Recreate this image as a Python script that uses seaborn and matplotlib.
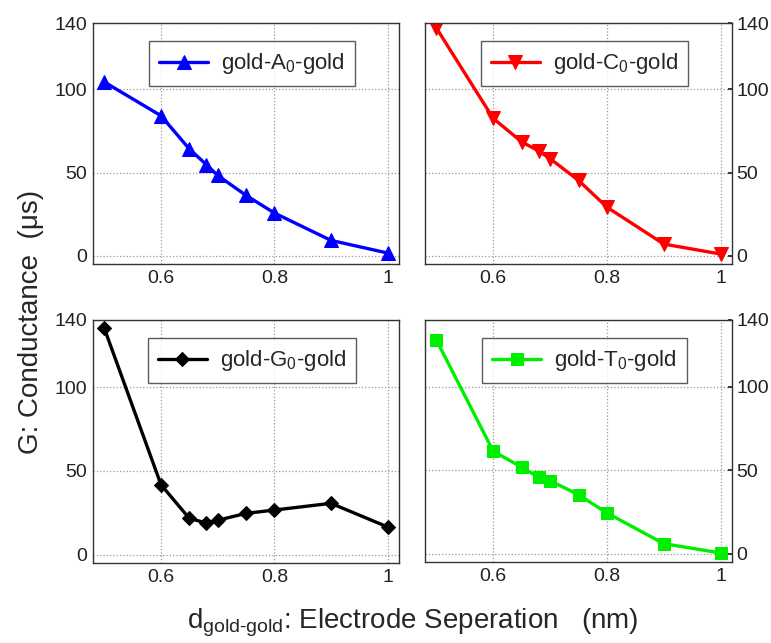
import matplotlib
matplotlib.use("Agg")
import matplotlib.pyplot as plt
import seaborn as sns
import pandas as pd

sep = [0.5, 0.6, 0.65, 0.68, 0.7, 0.75, 0.8, 0.9, 1.0]
g_A = [104.5, 84.2, 64.2, 54.8, 48.3, 36.3, 25.7, 9.2, 1.6]
g_C = [137.0, 82.6, 68.5, 63.0, 58.4, 45.3, 29.2, 7.0, 1.0]
g_G = [135.0, 41.7, 21.6, 18.9, 20.5, 24.6, 26.6, 30.6, 16.5]
g_T = [128.0, 61.4, 51.8, 45.7, 43.7, 35.3, 24.4, 6.0, 0.4]
labels = [r'gold-A$_0$-gold', r'gold-C$_0$-gold', r'gold-G$_0$-gold', r'gold-T$_0$-gold']
xticks = [0.6, 0.8, 1.0]
xticklabels = ['0.6', '0.8', '1']
yticks = [0, 50, 100, 140]

sns.set_theme(style="white")
plt.rcParams['font.family'] = ['Liberation Sans', 'DejaVu Sans']
plt.rcParams['mathtext.fontset'] = 'custom'
plt.rcParams['mathtext.rm'] = 'Liberation Sans'
plt.rcParams['mathtext.it'] = 'Liberation Sans'
plt.rcParams['mathtext.bf'] = 'Liberation Sans'

fig = plt.figure(figsize=(7.71, 6.43), dpi=100)
W, H = 771, 643
def pos(l, t, r, b):
    return [l / W, 1 - b / H, (r - l) / W, (b - t) / H]

boxes = [pos(93, 23, 399, 264), pos(425, 23, 732, 264),
         pos(93, 320, 399, 563), pos(425, 320, 732, 562)]
series = [g_A, g_C, g_G, g_T]
colors = ['#0000ff', '#ff0000', '#000000', '#00ee00']
markers = ['^', 'v', 'D', 's']
msizes = [10, 10, 7.5, 8.5]

for i, (box, ys, col, mk, lab, ms) in enumerate(zip(boxes, series, colors, markers, labels, msizes)):
    ax = fig.add_axes(box)
    df = pd.DataFrame({'d': sep, 'G': ys, 'name': lab})
    sns.lineplot(data=df, x='d', y='G', color=col, marker=mk, markersize=ms,
                 markeredgecolor=col, linewidth=2.4, label=lab, ax=ax)
    ax.set_xlim(0.48, 1.02)
    ax.set_ylim(-5, 140)
    ax.set_xticks(xticks)
    ax.set_xticklabels(xticklabels)
    ax.set_yticks(yticks)
    ax.grid(True, linestyle=':', color='#999999', linewidth=0.9)
    ax.set_xlabel('')
    ax.set_ylabel('')
    for s in ax.spines.values():
        s.set_color('#333333')
        s.set_linewidth(1.0)
    ax.tick_params(labelsize=14, length=3, direction='in', colors='#222222', pad=4)
    if i % 2 == 1:
        ax.yaxis.tick_right()
        ax.tick_params(axis='y', labelleft=False, labelright=True, pad=3)
    leg = ax.legend(loc='upper center', fontsize=16, frameon=True, fancybox=False,
                    handlelength=2.2, borderpad=0.45, handletextpad=0.6,
                    bbox_to_anchor=(0.52, 0.97))
    leg.get_frame().set_edgecolor('#333333')
    leg.get_frame().set_linewidth(1.0)

fig.text(0.040, 0.5, r'G: Conductance  (μs)', rotation=90, ha='center', va='center', fontsize=20)
fig.text(0.535, 0.032, r'd$_{\text{gold-gold}}$: Electrode Seperation   (nm)', ha='center', va='center', fontsize=20)

fig.savefig('out.png', dpi=100)
